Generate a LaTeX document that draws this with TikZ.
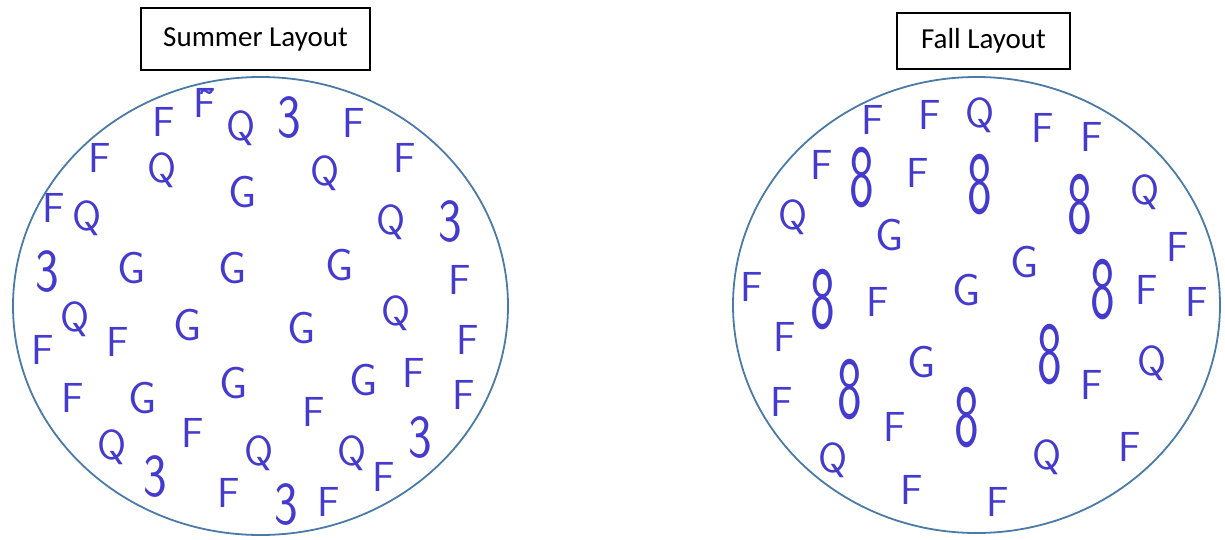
\documentclass[tikz,border=0pt]{standalone}
\usepackage{fontspec}
\usepackage{graphicx}
\usepackage{xcolor}
\usepackage{tikz}
\newfontfamily\calibri{Carlito}
\definecolor{inkblue}{RGB}{68,58,205}
\definecolor{ringblue}{RGB}{74,122,166}
\newcommand{\tallthree}{\scalebox{1.2}[1.45]{3}}
\newcommand{\talleight}{\scalebox{1.25}[2.1]{8}}
\tikzset{
  titlebox/.style={draw=black, line width=1.2pt, inner sep=0pt, font=\calibri\fontsize{29}{29}\selectfont},
  ring/.style={draw=ringblue, line width=1.8pt},
  ink/.style={inkblue, inner sep=0pt, font=\sffamily\fontsize{42}{42}\selectfont},
  gF/.style={ink},
  gQ/.style={ink},
  gG/.style={ink, font=\sffamily\fontsize{45}{45}\selectfont},
  g3/.style={ink},
  g8/.style={ink}
}
\begin{document}
\begin{tikzpicture}[x=1pt, y=-1pt]
\useasboundingbox (0,0) rectangle (1225,540);
% titles
\node[titlebox, minimum width=229pt, minimum height=62pt] (summer) at (255.5,39) {Summer Layout};
\node[titlebox, minimum width=173pt, minimum height=56pt] (fall) at (983.5,41) {Fall Layout};
% the two layouts
\draw[ring] (260.5,306) ellipse [x radius=247.5, y radius=229];
\draw[ring] (976.5,305) ellipse [x radius=243.5, y radius=228];
% summer letters
\foreach \st/\tx/\px/\py [count=\i] in {
  F/F/164/122, F/{\~{F}}/205/103, Q/Q/241/128, 3/\tallthree/289/118, F/F/354/123,
  F/F/100/158, Q/Q/162/170, G/G/243/192, Q/Q/325/173, F/F/405/158,
  F/F/54/208, Q/Q/87/218, Q/Q/391/222, 3/\tallthree/450/222,
  3/\tallthree/47/272, G/G/132/268, G/G/233/268, G/G/340/265, F/F/460/280,
  Q/Q/75/319, F/F/43/350, F/F/118/342, G/G/188/325, G/G/302/328, Q/Q/396/313, F/F/468/340,
  F/F/73/398, G/G/143/398, G/G/234/383, F/F/314/412, G/G/364/380, F/F/414/373, F/F/464/395,
  Q/Q/112/447, 3/\tallthree/155/477, F/F/193/433, Q/Q/259/453, F/F/229/493,
  3/\tallthree/286/505, F/F/329/502, Q/Q/352/453, F/F/384/477, 3/\tallthree/420/438}
  \node[g\st] (s\i) at (\px,\py) {\tx};
% fall letters
\foreach \st/\tx/\px/\py [count=\i] in {
  F/F/873/120, F/F/930/115, Q/Q/980/115, F/F/1043/128, F/F/1092/137,
  F/F/822/165, 8/\talleight/862/178, F/F/918/173, 8/\talleight/980/185, 8/\talleight/1080/205, Q/Q/1145/192,
  Q/Q/793/217, G/G/890/235, G/G/1025/262, F/F/1178/247,
  F/F/752/287, 8/\talleight/823/300, F/F/878/302, G/G/967/290, 8/\talleight/1103/290, F/F/1147/290, F/F/1197/302,
  F/F/785/337, G/G/922/362, 8/\talleight/1050/355, Q/Q/1152/363,
  F/F/782/402, 8/\talleight/850/390, F/F/1092/385, F/F/895/427, 8/\talleight/967/418,
  Q/Q/833/460, Q/Q/1047/457, F/F/1130/447, F/F/912/490, F/F/998/502}
  \node[g\st] (f\i) at (\px,\py) {\tx};
\end{tikzpicture}
\end{document}
